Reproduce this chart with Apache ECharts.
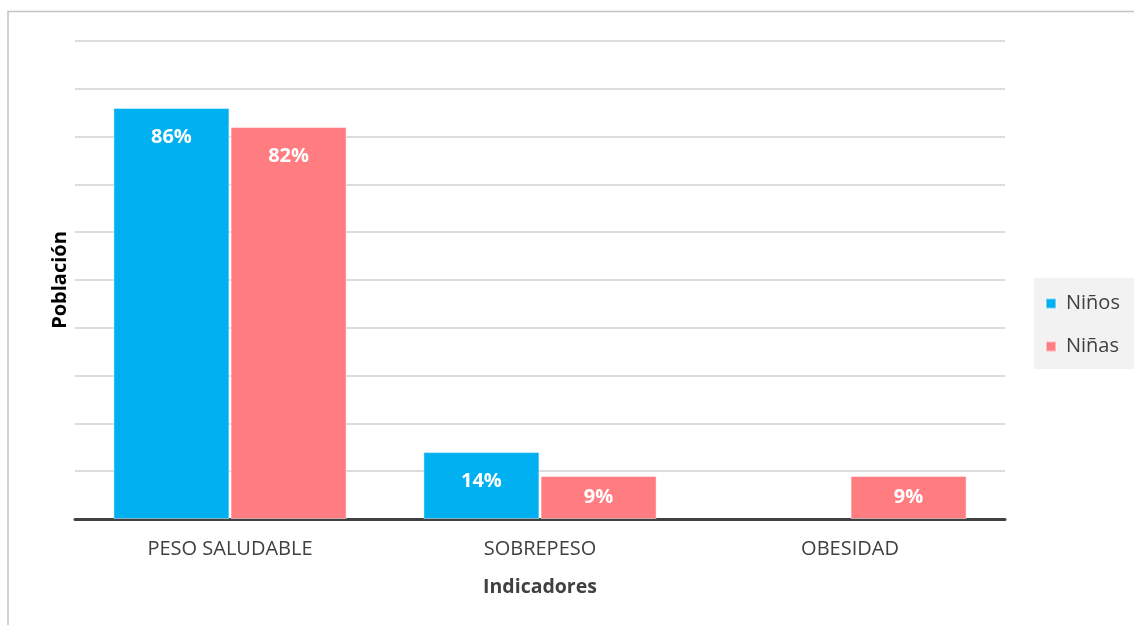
<!DOCTYPE html>
<html>
<head>
<meta charset="utf-8">
<script src="https://cdn.jsdelivr.net/npm/echarts@6/dist/echarts.min.js"></script>
<style>
html,body{margin:0;padding:0;background:#fff;}
#chart{width:1134px;height:625px;}
</style>
</head>
<body>
<div id="chart"></div>
<script>
const categories = ['PESO SALUDABLE', 'SOBREPESO', 'OBESIDAD'];
const ninos = [86, 14, null];
const ninas = [82, 9, 9];
const seriesNames = ['Niños', 'Niñas'];
const colors = ['#00B0F0', '#FF7C80'];

const FONT = '"Open Sans", sans-serif';

function makeData(arr) {
  return arr.map(v => {
    if (v === null) return null;
    if (v < 12) {
      return { value: v, label: { position: 'inside' } };
    }
    return v;
  });
}

const chart = echarts.init(document.getElementById('chart'), null, { renderer: 'canvas' });

const labelCfg = {
  show: true,
  position: 'insideTop',
  distance: 19,
  color: '#ffffff',
  fontFamily: FONT,
  fontWeight: 'bold',
  fontSize: 20,
  formatter: p => p.value + '%'
};

chart.setOption({
  animation: false,
  backgroundColor: '#ffffff',
  graphic: [{
    type: 'rect',
    shape: { x: 8, y: 11.5, width: 1140, height: 700 },
    style: { fill: 'none', stroke: '#c4c4c4', lineWidth: 1.5 },
    silent: true,
    z: -10
  }],
  grid: { left: 75, right: 129, top: 41, bottom: 106 },
  legend: {
    orient: 'vertical',
    left: 1034,
    top: 278,
    padding: [10, 16, 7, 11],
    backgroundColor: '#f2f2f2',
    itemWidth: 10,
    itemHeight: 10,
    itemGap: 12,
    icon: 'rect',
    textStyle: { fontFamily: FONT, fontSize: 20, color: '#404040', padding: [0, 0, 0, 5], lineHeight: 31 },
    data: seriesNames
  },
  xAxis: {
    type: 'category',
    data: categories,
    name: 'Indicadores',
    nameLocation: 'middle',
    nameGap: 58,
    nameTextStyle: { fontFamily: FONT, fontWeight: 'bold', fontSize: 19.5, color: '#404040' },
    axisLine: { lineStyle: { color: '#404040', width: 3 } },
    axisTick: { show: false },
    axisLabel: { fontFamily: FONT, fontSize: 20, color: '#404040', margin: 20 }
  },
  yAxis: {
    type: 'value',
    min: 0,
    max: 100,
    interval: 10,
    name: 'Población',
    nameLocation: 'middle',
    nameGap: 5,
    nameTextStyle: { fontFamily: FONT, fontWeight: 'bold', fontSize: 20, color: '#000000' },
    axisLabel: { show: false },
    axisLine: { show: false },
    axisTick: { show: false },
    splitLine: { lineStyle: { color: '#d0d0d0', width: 1.5 } }
  },
  series: [
    {
      name: seriesNames[0],
      type: 'bar',
      data: makeData(ninos),
      barWidth: 116,
      barGap: '1%',
      itemStyle: { color: colors[0], borderColor: 'rgba(255,255,255,0.45)', borderWidth: 1 },
      label: labelCfg
    },
    {
      name: seriesNames[1],
      type: 'bar',
      data: makeData(ninas),
      barWidth: 116,
      barGap: '1%',
      itemStyle: { color: colors[1], borderColor: 'rgba(255,255,255,0.45)', borderWidth: 1 },
      label: labelCfg
    }
  ]
});
</script>
</body>
</html>
